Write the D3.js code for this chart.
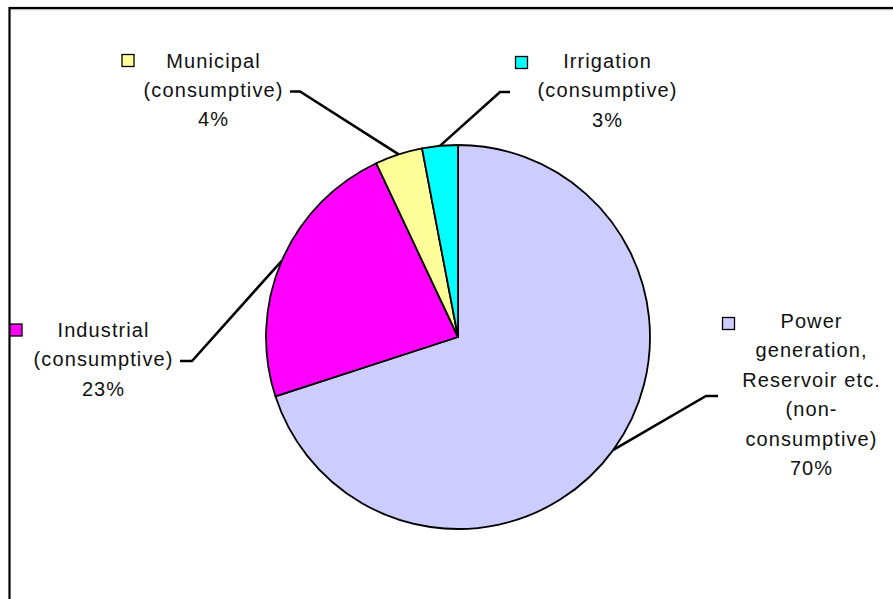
<!DOCTYPE html>
<html><head><meta charset="utf-8">
<script src="https://cdn.jsdelivr.net/npm/d3@7"></script>
<style>body{margin:0;background:#fff}svg{display:block}</style>
</head><body>
<svg id="c" width="893" height="599"></svg>
<script>
const categories = ["Power generation, Reservoir etc. (non-consumptive)", "Industrial (consumptive)", "Municipal (consumptive)", "Irrigation (consumptive)"];
const values = [70, 23, 4, 3];
const labelLines = [
  ["Power", "generation,", "Reservoir etc.", "(non-", "consumptive)", "70%"],
  ["Industrial", "(consumptive)", "23%"],
  ["Municipal", "(consumptive)", "4%"],
  ["Irrigation", "(consumptive)", "3%"]
];
const colors = ["#CCCCFF", "#FF00FF", "#FFFF99", "#00FFFF"];

// layout
const cx = 458, cy = 337, R = 192;
const labelLayout = [
  {x: 811, y: 328, key: [722.5, 317.5], elbow: [706, 396], end: [718, 396]},
  {x: 103, y: 337, key: [10, 324], elbow: [192, 361], end: [180, 361]},
  {x: 213, y: 67.5, key: [122, 54.5], elbow: [300, 91.5], end: [290, 91.5]},
  {x: 607, y: 68, key: [515.5, 56.5], elbow: [500, 92], end: [510, 92]}
];
const lineH = 29.4;

const svg = d3.select("#c");
// border
svg.append("line").attr("x1", 9).attr("x2", 893).attr("y1", 9.8).attr("y2", 9.8).attr("stroke", "#bbb").attr("stroke-width", 1);
svg.append("rect").attr("x", 9.5).attr("y", 8).attr("width", 1000).attr("height", 1000)
  .attr("fill", "none").attr("stroke", "#000").attr("stroke-width", 2.2);

const pie = d3.pie().sort(null).startAngle(0).endAngle(2 * Math.PI);
const arcs = pie(values);
const arc = d3.arc().innerRadius(0).outerRadius(R);
const g = svg.append("g").attr("transform", `translate(${cx},${cy})`);
g.selectAll("path").data(arcs).join("path")
  .attr("d", arc).attr("fill", (d, i) => colors[i])
  .attr("stroke", "#000").attr("stroke-width", 1.8).attr("stroke-linejoin", "round");

// leader lines
arcs.forEach((d, i) => {
  const a = (d.startAngle + d.endAngle) / 2;
  const px = cx + R * Math.sin(a), py = cy - R * Math.cos(a);
  const L = labelLayout[i];
  svg.append("polyline")
    .attr("points", [[px, py], L.elbow, L.end].map(p => p.join(",")).join(" "))
    .attr("fill", "none").attr("stroke", "#000").attr("stroke-width", 2.6);
});

// labels
labelLines.forEach((lines, i) => {
  const L = labelLayout[i];
  svg.append("rect").attr("x", L.key[0]).attr("y", L.key[1]).attr("width", 12).attr("height", 12)
    .attr("fill", colors[i]).attr("stroke", "#000").attr("stroke-width", 1.3);
  const t = svg.append("text").attr("text-anchor", "middle")
    .attr("font-family", "Liberation Sans, Arial, sans-serif").attr("font-size", 20)
    .attr("letter-spacing", 1.1).attr("fill", "#111");
  lines.forEach((s, j) => {
    t.append("tspan").attr("x", L.x + 0.55).attr("y", L.y + j * lineH).text(s);
  });
});
</script>
</body></html>
